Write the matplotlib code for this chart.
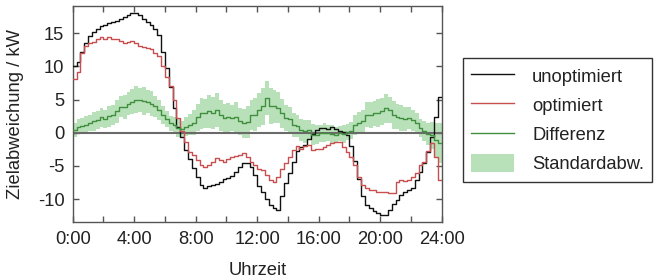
import numpy as np
import matplotlib
matplotlib.use('Agg')
import matplotlib.pyplot as plt
from matplotlib.lines import Line2D
from matplotlib.patches import Patch

plt.rcParams['font.family'] = ['Liberation Sans', 'DejaVu Sans']
FS = 13.2

# quarter-hourly values (96 steps, 0:00 .. 23:45), kW
unoptimiert = [
    10.0, 10.7, 12.2, 13.5, 14.6, 15.2, 15.7, 16.1,
    16.3, 16.5, 16.7, 16.9, 17.1, 17.4, 17.8, 18.0,
    18.0, 17.7, 17.2, 16.7, 16.2, 15.7, 14.8, 12.2,
    9.7, 6.9, 3.7, 0.9, -0.6, -2.6, -4.0, -5.3,
    -6.6, -7.9, -8.4, -8.1, -7.9, -7.7, -7.4, -7.0,
    -6.8, -6.5, -5.9, -5.2, -4.6, -4.6, -5.1, -6.3,
    -8.0, -9.0, -10.0, -10.9, -11.4, -11.6, -9.5, -7.6,
    -6.0, -4.4, -2.8, -2.2, -1.8, -1.0, -0.2, 0.4,
    0.7, 0.7, 0.5, 0.8, 0.6, 0.3, 0.1, -0.4,
    -2.0, -4.3, -7.0, -9.6, -10.9, -11.4, -11.8, -12.1,
    -12.4, -12.4, -11.7, -10.7, -10.2, -9.4, -8.9, -8.7,
    -8.4, -7.1, -5.9, -4.6, -2.9, -0.6, 2.4, 5.4,
]
optimiert = [
    8.1, 9.2, 12.0, 13.0, 13.5, 13.7, 14.2, 14.4,
    14.2, 14.4, 14.1, 14.2, 13.9, 13.5, 13.7, 13.8,
    13.5, 13.0, 12.9, 12.7, 12.6, 12.0, 11.5, 10.0,
    8.4, 7.0, 5.0, 2.2, 0.2, -1.4, -2.9, -3.4,
    -4.1, -4.9, -5.2, -4.9, -4.4, -3.8, -4.1, -4.4,
    -3.9, -3.6, -3.5, -3.4, -3.1, -3.6, -4.4, -4.8,
    -5.4, -5.6, -6.4, -7.1, -7.4, -6.6, -5.4, -4.6,
    -3.6, -2.6, -2.0, -2.4, -2.0, -1.9, -2.6, -2.4,
    -2.4, -2.1, -1.9, -1.6, -1.35, -1.35, -2.1, -2.9,
    -3.6, -4.8, -6.6, -7.9, -8.4, -8.6, -8.7, -8.9,
    -8.9, -8.9, -9.1, -9.1, -7.5, -7.1, -7.3, -7.1,
    -6.6, -6.1, -4.9, -4.4, -2.7, -1.6, -3.6, -7.1,
]
differenz = [
    0.4, 0.9, 1.0, 1.2, 1.4, 1.7, 1.9, 2.3,
    2.1, 2.5, 2.7, 3.2, 3.9, 3.9, 4.4, 4.7,
    5.0, 4.9, 4.8, 4.7, 4.4, 4.0, 3.4, 2.7,
    2.0, 1.4, 1.1, 0.7, 0.6, 0.9, 1.2, 1.5,
    2.3, 2.9, 2.9, 3.2, 3.0, 3.4, 2.6, 2.2,
    2.3, 2.2, 2.3, 1.7, 1.4, 1.6, 2.7, 2.7,
    3.4, 4.0, 5.2, 4.0, 4.0, 3.8, 2.9, 2.2,
    2.0, 1.2, 1.0, 0.4, 0.2, 0.4, -0.3, -0.3,
    -0.1, 0.0, -0.1, -0.2, -0.3, -0.1, -0.2, 0.1,
    0.3, 1.2, 1.5, 1.7, 2.7, 2.7, 2.9, 3.0,
    3.2, 3.7, 3.4, 2.7, 2.4, 2.2, 2.1, 2.2,
    1.9, 1.4, 0.7, 0.2, -0.2, -0.4, -1.1, -1.6,
]
standardabw = [
    1.0, 1.1, 1.2, 1.3, 1.2, 1.4, 1.3, 1.5,
    1.4, 1.6, 1.5, 1.7, 1.6, 1.8, 1.7, 1.9,
    2.0, 1.8, 2.1, 1.7, 1.9, 1.6, 1.5, 1.4,
    1.2, 1.1, 1.2, 1.3, 1.2, 1.4, 1.6, 1.9,
    2.1, 2.3, 2.2, 2.5, 2.4, 2.6, 2.3, 2.2,
    2.2, 2.0, 2.3, 2.1, 2.2, 2.4, 2.3, 2.5,
    2.6, 2.8, 2.6, 2.7, 2.5, 2.3, 2.2, 2.0,
    1.9, 1.8, 1.7, 1.6, 1.7, 1.5, 1.6, 1.4,
    1.3, 1.4, 1.2, 1.3, 1.2, 1.1, 1.3, 1.2,
    1.3, 1.5, 1.6, 1.8, 1.9, 2.0, 1.9, 2.1,
    2.0, 2.2, 2.0, 2.1, 1.9, 2.0, 1.8, 1.7,
    1.6, 1.5, 1.4, 1.5, 1.6, 2.0, 2.6, 3.0,
]
series_labels = ['unoptimiert', 'optimiert', 'Differenz', 'Standardabw.']
xtick_pos = [0, 4, 8, 12, 16, 20, 24]
xtick_labels = ['0:00', '4:00', '8:00', '12:00', '16:00', '20:00', '24:00']
ytick_pos = [-10, -5, 0, 5, 10, 15]
ytick_labels = ['-10', '-5', '0', '5', '10', '15']

c_black = '#111111'
c_red = '#c84f4f'
c_green = '#3f8f3f'
c_band = '#b9e1b9'
c_axis = '#555555'
c_text = '#222222'

x = np.arange(len(unoptimiert) + 1) * 0.25
def ext(v):
    v = np.asarray(v, dtype=float)
    return np.append(v, v[-1])

d = np.asarray(differenz)
s = np.asarray(standardabw)

fig = plt.figure(figsize=(6.6, 2.79), dpi=100)
ax = fig.add_axes([72.7 / 660, 1 - 222.3 / 279, (441.7 - 72.7) / 660, (222.3 - 6) / 279])

ax.fill_between(x, ext(d - s), ext(d + s), step='post', color=c_band, lw=0, zorder=1)
ax.axhline(0, color='#6a6a6a', lw=1.5, zorder=2)
ax.step(x, ext(unoptimiert), where='post', color=c_black, lw=1.0, zorder=3)
ax.step(x, ext(optimiert), where='post', color=c_red, lw=1.0, zorder=4)
ax.step(x, ext(differenz), where='post', color=c_green, lw=1.0, zorder=5)

ax.set_xlim(0, 24)
ax.set_ylim(-13.5, 19.1)
ax.set_xticks(xtick_pos)
ax.set_xticklabels(xtick_labels)
ax.set_xticks([2, 6, 10, 14, 18, 22], minor=True)
ax.set_yticks(ytick_pos)
ax.set_yticklabels(ytick_labels)
ax.tick_params(which='both', direction='in', top=True, right=True, length=4,
               width=1, color=c_axis, labelsize=FS, labelcolor=c_text, pad=6)
for sp in ax.spines.values():
    sp.set_color(c_axis)
    sp.set_linewidth(1.0)

ax.set_xlabel('Uhrzeit', fontsize=FS, color=c_text)
ax.xaxis.set_label_coords(0.5, -0.225)
ax.xaxis.label.set_va('center')
ax.set_ylabel('Zielabweichung / kW', fontsize=FS, color=c_text)
ax.yaxis.set_label_coords(-0.155, 0.5)
ax.yaxis.label.set_va('center')

handles = [
    Line2D([], [], color=c_black, lw=1.0),
    Line2D([], [], color=c_red, lw=1.0),
    Line2D([], [], color=c_green, lw=1.0),
    Patch(facecolor=c_band, edgecolor='none'),
]
leg = fig.legend(handles, series_labels, loc='upper left',
                 bbox_to_anchor=(462.7 / 660, 1 - 58.3 / 279),
                 fontsize=FS, frameon=True, fancybox=False, framealpha=1,
                 edgecolor='#333333', borderaxespad=0, borderpad=0.45,
                 handlelength=2.35, handleheight=1.09, handletextpad=0.98,
                 labelspacing=0.56)
leg.get_frame().set_linewidth(1.0)
for t in leg.get_texts():
    t.set_color(c_text)

fig.savefig('out.png', dpi=100)
